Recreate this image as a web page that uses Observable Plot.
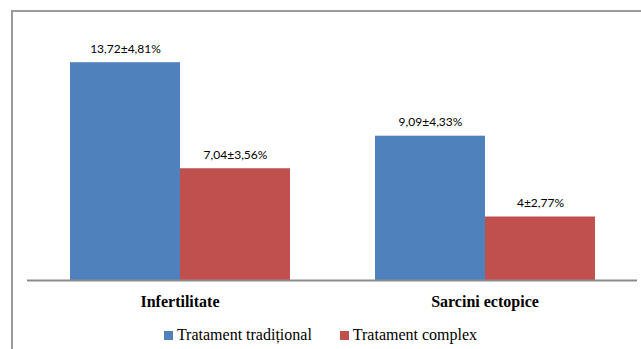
<!DOCTYPE html>
<html>
<head>
<meta charset="utf-8">
<script src="https://cdn.jsdelivr.net/npm/d3@7"></script>
<script src="https://cdn.jsdelivr.net/npm/@observablehq/plot@0.6"></script>
<style>
  html, body { margin: 0; padding: 0; background: #fff; }
  body { width: 641px; height: 349px; overflow: hidden; position: relative; }
  #frame { position: absolute; left: 11px; top: 10px; width: 700px; height: 400px;
           border-left: 2px solid #9a9a9a; border-top: 2px solid #9a9a9a; box-sizing: border-box; }
  #chart { position: absolute; left: 0; top: 0; }
  #legend { position: absolute; left: 0; top: 324px; width: 641px; height: 22px;
            display: flex; justify-content: center; align-items: center; gap: 28px;
            font-family: 'Liberation Serif', 'DejaVu Serif', serif; font-size: 16px; color: #000; }
  #legend .item { display: flex; align-items: center; }
  #legend .sw { width: 9px; height: 9px; margin-right: 4px; }
  .catlabel text { font-family: 'Liberation Serif', 'DejaVu Serif', serif; }
</style>
</head>
<body>
<div id="frame"></div>
<div id="chart"></div>
<div id="legend"></div>
<script>
const categories = ["Infertilitate", "Sarcini ectopice"];
const series = ["Tratament tradițional", "Tratament complex"];
const traditionalMean = [13.72, 9.09];
const traditionalSd = [4.81, 4.33];
const complexMean = [7.04, 4];
const complexSd = [3.56, 2.77];
const colors = ["#4F81BD", "#C0504D"];

const fmt = v => String(v).replace(".", ",");
const data = [];
categories.forEach((c, i) => {
  data.push({category: c, series: series[0], value: traditionalMean[i], sd: traditionalSd[i]});
  data.push({category: c, series: series[1], value: complexMean[i], sd: complexSd[i]});
});
data.forEach(d => d.label = `${fmt(d.value)}±${fmt(d.sd)}%`);

const plot = Plot.plot({
  width: 641,
  height: 320,
  marginTop: 26,
  marginBottom: 40,
  marginLeft: 26,
  marginRight: 4,
  style: {background: "transparent", overflow: "visible"},
  fx: {domain: categories, padding: 0, label: null},
  x: {domain: series, paddingInner: 0, paddingOuter: 0.376, axis: null},
  y: {domain: [0, 16], axis: null},
  color: {domain: series, range: colors},
  marks: [
    Plot.barY(data, {fx: "category", x: "series", y: "value", fill: "series"}),
    Plot.ruleY([0], {stroke: "#8c8c8c", strokeWidth: 2}),
    Plot.text(data, {fx: "category", x: "series", y: "value", text: "label", dy: -14,
      fontFamily: "Lato, sans-serif", fontSize: 12, fill: "#000"}),
    Plot.axisFx({anchor: "bottom", tickSize: 0, tickPadding: 15, label: null, className: "catlabel",
      fontFamily: "Liberation Serif", fontSize: 16, fontWeight: "bold", fill: "#000"})
  ]
});
document.getElementById("chart").appendChild(plot);

const legend = document.getElementById("legend");
series.forEach((s, i) => {
  const item = document.createElement("div");
  item.className = "item";
  const sw = document.createElement("span");
  sw.className = "sw";
  sw.style.background = colors[i];
  const t = document.createElement("span");
  t.textContent = s;
  item.appendChild(sw);
  item.appendChild(t);
  legend.appendChild(item);
});
</script>
</body>
</html>
